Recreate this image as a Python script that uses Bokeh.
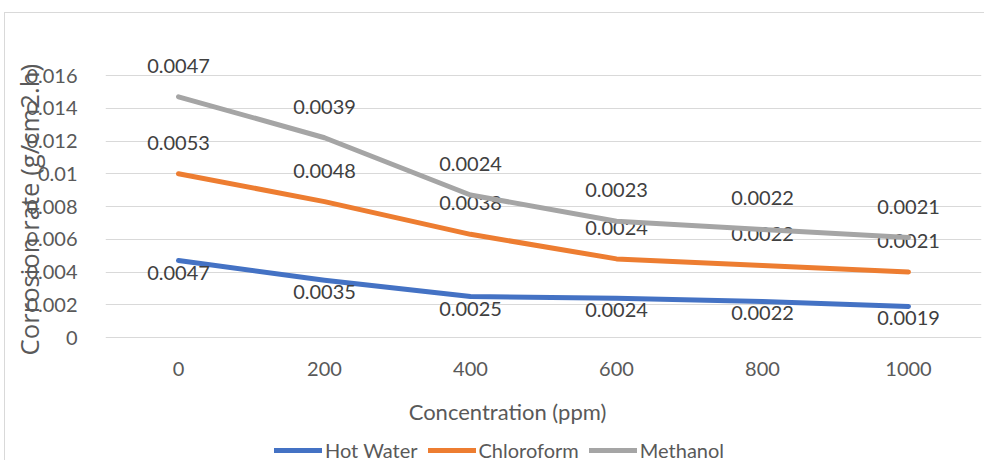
from bokeh.plotting import figure
from bokeh.models import FixedTicker, Legend, LegendItem, ColumnDataSource, Title
from bokeh.core.properties import value
from bokeh.embed import file_html
from bokeh.resources import INLINE

concentrations = ["0", "200", "400", "600", "800", "1000"]
series_names = ["Hot Water", "Chloroform", "Methanol"]
hot_water = [0.0047, 0.0035, 0.0025, 0.0024, 0.0022, 0.0019]
chloroform = [0.0053, 0.0048, 0.0038, 0.0024, 0.0022, 0.0021]
methanol = [0.0047, 0.0039, 0.0024, 0.0023, 0.0022, 0.0021]
y_ticks = [0, 0.002, 0.004, 0.006, 0.008, 0.01, 0.012, 0.014, 0.016]
y_tick_labels = ["0", "0.002", "0.004", "0.006", "0.008", "0.01", "0.012", "0.014", "0.016"]
x_title = "Concentration (ppm)"
y_title = "Corrosion rate  (g/cm2.h)"

colors = ["#4472C4", "#ED7D31", "#A5A5A5"]
FONT = "Lato"
TXT = "#595959"

# layout: axis 0..0.016 spans 262 px; frame extends 33 px above and 124 px below
PX = 262 / 0.016
y_lo = -124 / PX
y_hi = 0.016 + 33 / PX

p = figure(x_range=concentrations, y_range=(y_lo, y_hi), width=980, height=448,
           output_backend="svg", toolbar_location=None, title=None,
           min_border_left=100, min_border_right=4, min_border_top=29, min_border_bottom=0)
p.margin = (12, 0, 0, 4)
p.styles = {"border-left": "1px solid #D9D9D9", "border-top": "1px solid #D9D9D9"}
p.outline_line_color = None
p.background_fill_color = "white"
p.border_fill_color = "white"

# stacked values
stacks = []
running = [0.0] * len(concentrations)
for vals in (hot_water, chloroform, methanol):
    running = [round(a + b, 6) for a, b in zip(running, vals)]
    stacks.append(list(running))

renderers = []
label_offsets = [12, -31, -31]
for name, vals, cum, col, off in zip(series_names, (hot_water, chloroform, methanol), stacks, colors, label_offsets):
    src = ColumnDataSource(dict(x=concentrations, y=cum, t=[f"{v:.4f}" for v in vals]))
    r = p.line("x", "y", source=src, line_color=col, line_width=5, line_join="round", line_cap="round")
    renderers.append(r)
    p.text("x", "y", text="t", source=src, y_offset=off, text_align="center", text_baseline="middle",
           text_font=value(FONT), text_font_size="20px", text_color="#404040")

p.xgrid.grid_line_color = None
p.ygrid.grid_line_color = "#D9D9D9"
p.ygrid.grid_line_width = 1
p.ygrid.ticker = FixedTicker(ticks=y_ticks)

p.yaxis.ticker = FixedTicker(ticks=y_ticks)
p.yaxis.major_label_overrides = dict(zip(y_ticks, y_tick_labels))
for ax in (p.xaxis[0], p.yaxis[0]):
    ax.axis_line_color = None
    ax.major_tick_line_color = None
    ax.minor_tick_line_color = None
    ax.major_label_text_font = FONT
    ax.major_label_text_font_size = "20px"
    ax.major_label_text_color = TXT
    ax.axis_label_text_font = FONT
    ax.axis_label_text_font_size = "22px"
    ax.axis_label_text_font_style = "normal"
    ax.axis_label_text_color = TXT

p.yaxis.major_label_standoff = 22

# y-axis title, placed beside (partly over) the tick labels
ytitle = Title(text=y_title, align="left", offset=106, standoff=-46,
               text_font="Open Sans", text_font_size="25.7px", text_font_style="normal",
               text_color=TXT)
p.add_layout(ytitle, "left")

p.xaxis.fixed_location = 0
p.xaxis.bounds = (0, 5.505)
p.xaxis.major_label_standoff = 18
p.xaxis.axis_label = x_title
p.xaxis.axis_label_standoff = 19

legend = Legend(items=[LegendItem(label=n, renderers=[r]) for n, r in zip(series_names, renderers)],
                orientation="horizontal", location=(169, -1), glyph_width=48, glyph_height=20,
                label_standoff=3, spacing=10, padding=0, margin=0, border_line_color=None,
                background_fill_alpha=0, label_text_font=FONT, label_text_font_size="20px",
                label_text_color=TXT)
p.add_layout(legend)

open("out.html", "w").write(file_html(p, INLINE))
